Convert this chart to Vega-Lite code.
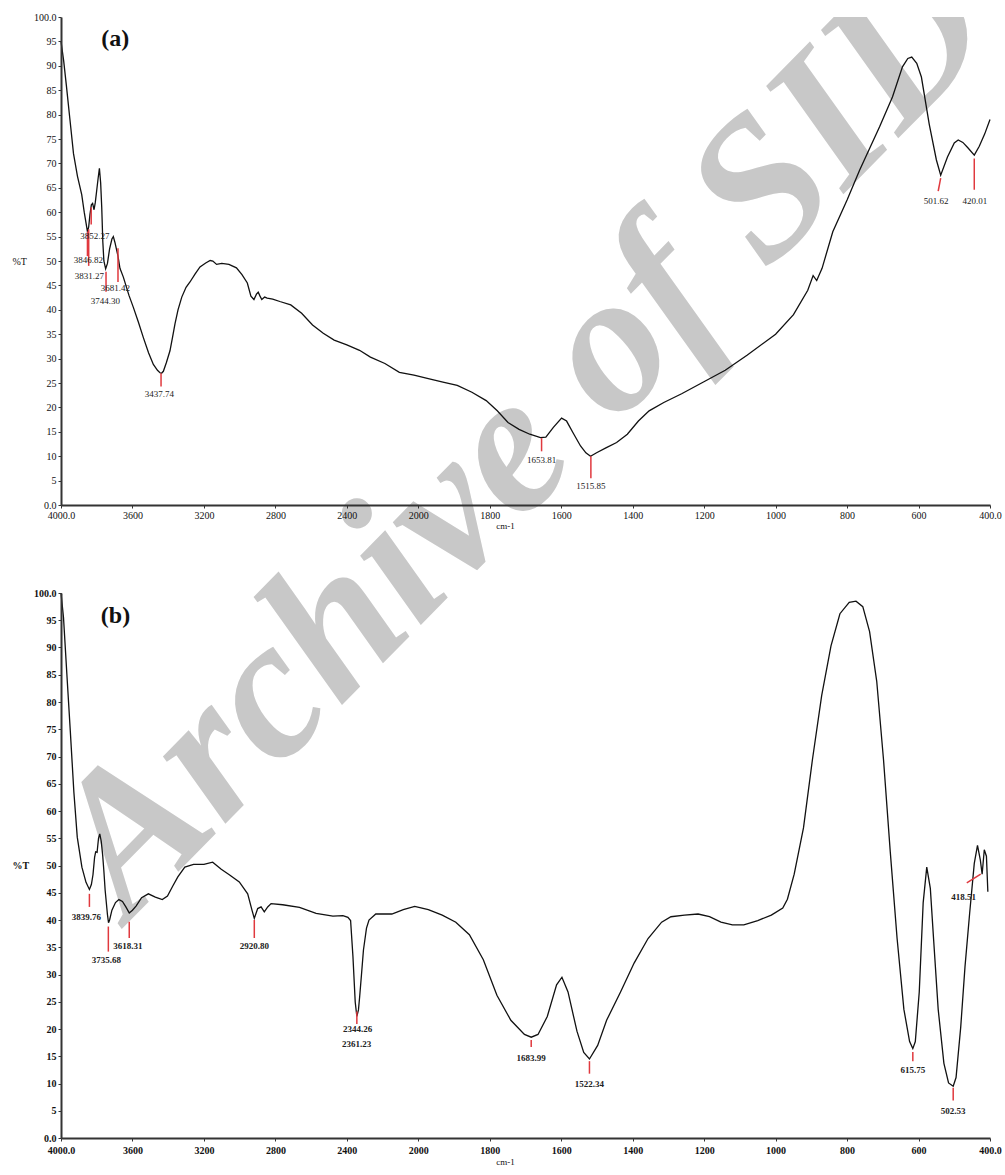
{
  "$schema": "https://vega.github.io/schema/vega-lite/v6.json",
  "background": "white",
  "padding": {"left": 12, "top": 12, "right": 5, "bottom": 3},
  "config": {
    "view": {"stroke": null},
    "font": "Liberation Serif",
    "axis": {
      "grid": false, "domainColor": "#333333", "domainWidth": 2, "tickColor": "#333333", "tickSize": 3,
      "labelFont": "Liberation Serif", "labelFontSize": 10, "labelColor": "#111111", "labelFlush": false, "labelOverlap": false,
      "titleFont": "Liberation Serif", "titleFontSize": 10, "titleFontWeight": "normal", "titleColor": "#111111"
    }
  },
  "bounds": "flush",
  "spacing": 88,
  "datasets": {
    "wmA": [{"word": "Archive", "wn": 2595, "t": -29.7}],
    "wmB": [{"word": "of SID", "wn": 1030, "t": 64.9}],
    "tagA": [{"tag": "(a)", "wn": 3697, "t": 95.5}],
    "tagB": [{"tag": "(b)", "wn": 3695, "t": 95.8}],
    "a": [
      {"wn":4000,"t":95},{"wn":3985,"t":91},{"wn":3970,"t":86},{"wn":3950,"t":79},{"wn":3930,"t":72},{"wn":3908,"t":67.4},{"wn":3884,"t":63.6},{"wn":3870,"t":60},{"wn":3860,"t":57.8},{"wn":3852,"t":56},{"wn":3845,"t":57},{"wn":3838,"t":59.5},{"wn":3830,"t":61.5},{"wn":3823,"t":61.8},{"wn":3815,"t":60.5},{"wn":3808,"t":62},{"wn":3800,"t":64.5},{"wn":3792,"t":67},{"wn":3785,"t":69},{"wn":3778,"t":66},{"wn":3772,"t":61},{"wn":3766,"t":54},{"wn":3760,"t":50},{"wn":3750,"t":48.4},{"wn":3740,"t":49.5},{"wn":3728,"t":52.5},{"wn":3715,"t":54.5},{"wn":3707,"t":55},{"wn":3698,"t":53.8},{"wn":3690,"t":52.5},{"wn":3681,"t":51},{"wn":3670,"t":48.5},{"wn":3651,"t":46.7},{"wn":3620,"t":43},{"wn":3595,"t":40.5},{"wn":3567,"t":37.5},{"wn":3539,"t":34.3},{"wn":3510,"t":31.2},{"wn":3483,"t":28.8},{"wn":3460,"t":27.6},{"wn":3446,"t":27.1},{"wn":3437,"t":27},{"wn":3427,"t":27.4},{"wn":3410,"t":29.2},{"wn":3390,"t":31.6},{"wn":3375,"t":34.5},{"wn":3362,"t":37.1},{"wn":3345,"t":40},{"wn":3324,"t":42.6},{"wn":3300,"t":44.6},{"wn":3278,"t":45.7},{"wn":3250,"t":47.3},{"wn":3222,"t":48.8},{"wn":3190,"t":49.6},{"wn":3165,"t":50.1},{"wn":3150,"t":50},{"wn":3129,"t":49.3},{"wn":3100,"t":49.5},{"wn":3060,"t":49.3},{"wn":3018,"t":48.6},{"wn":2987,"t":47.2},{"wn":2957,"t":45.5},{"wn":2937,"t":42.8},{"wn":2920,"t":42.1},{"wn":2906,"t":43.2},{"wn":2896,"t":43.6},{"wn":2886,"t":42.8},{"wn":2876,"t":42.1},{"wn":2860,"t":42.6},{"wn":2846,"t":42.4},{"wn":2815,"t":42.2},{"wn":2775,"t":41.7},{"wn":2714,"t":41.0},{"wn":2653,"t":39.3},{"wn":2592,"t":36.9},{"wn":2532,"t":35.2},{"wn":2471,"t":33.8},{"wn":2400,"t":32.8},{"wn":2329,"t":31.7},{"wn":2268,"t":30.3},{"wn":2187,"t":29.0},{"wn":2106,"t":27.2},{"wn":2024,"t":26.6},{"wn":1972,"t":25.9},{"wn":1931,"t":25.2},{"wn":1891,"t":24.5},{"wn":1850,"t":23.1},{"wn":1810,"t":21.4},{"wn":1779,"t":19.3},{"wn":1749,"t":16.9},{"wn":1718,"t":15.5},{"wn":1688,"t":14.5},{"wn":1658,"t":13.8},{"wn":1643,"t":13.9},{"wn":1622,"t":15.9},{"wn":1599,"t":17.8},{"wn":1585,"t":17.2},{"wn":1567,"t":14.8},{"wn":1546,"t":12.1},{"wn":1531,"t":10.7},{"wn":1518,"t":10.0},{"wn":1501,"t":10.7},{"wn":1475,"t":11.7},{"wn":1445,"t":12.8},{"wn":1415,"t":14.5},{"wn":1384,"t":17.2},{"wn":1354,"t":19.3},{"wn":1313,"t":21.0},{"wn":1263,"t":22.8},{"wn":1202,"t":25.2},{"wn":1141,"t":27.6},{"wn":1080,"t":30.7},{"wn":1000,"t":35},{"wn":950,"t":39},{"wn":910,"t":44},{"wn":895,"t":47},{"wn":885,"t":46},{"wn":870,"t":48.5},{"wn":840,"t":56},{"wn":800,"t":62.5},{"wn":765,"t":68.6},{"wn":709,"t":77.5},{"wn":673,"t":83.6},{"wn":645,"t":89.8},{"wn":630,"t":91.5},{"wn":619,"t":91.8},{"wn":605,"t":90.5},{"wn":592,"t":87.7},{"wn":570,"t":78},{"wn":550,"t":70.7},{"wn":538,"t":67.6},{"wn":519,"t":71.3},{"wn":500,"t":74.2},{"wn":489,"t":74.8},{"wn":476,"t":74.3},{"wn":462,"t":73.2},{"wn":444,"t":71.7},{"wn":430,"t":73.5},{"wn":415,"t":76},{"wn":400,"t":79}
    ],
    "b": [
      {"wn":4000,"t":100},{"wn":3986,"t":95.5},{"wn":3967,"t":85},{"wn":3948,"t":74.7},{"wn":3928,"t":63.5},{"wn":3909,"t":55.2},{"wn":3883,"t":49.7},{"wn":3860,"t":46.9},{"wn":3841,"t":45.6},{"wn":3830,"t":46.5},{"wn":3821,"t":48.3},{"wn":3812,"t":51.5},{"wn":3806,"t":52.5},{"wn":3798,"t":52.4},{"wn":3790,"t":55},{"wn":3783,"t":55.8},{"wn":3775,"t":54.5},{"wn":3767,"t":52},{"wn":3760,"t":49},{"wn":3753,"t":45.5},{"wn":3740,"t":41},{"wn":3734,"t":39.5},{"wn":3728,"t":40},{"wn":3715,"t":41.8},{"wn":3695,"t":43.2},{"wn":3676,"t":43.75},{"wn":3656,"t":43.4},{"wn":3637,"t":42.4},{"wn":3618,"t":41.3},{"wn":3600,"t":41.8},{"wn":3579,"t":42.6},{"wn":3549,"t":44.1},{"wn":3511,"t":44.8},{"wn":3472,"t":44.2},{"wn":3433,"t":43.75},{"wn":3404,"t":44.4},{"wn":3375,"t":46.2},{"wn":3346,"t":47.9},{"wn":3307,"t":49.7},{"wn":3258,"t":50.2},{"wn":3200,"t":50.2},{"wn":3151,"t":50.6},{"wn":3103,"t":49.3},{"wn":3058,"t":48.3},{"wn":3002,"t":47},{"wn":2955,"t":44.8},{"wn":2931,"t":41.8},{"wn":2918,"t":40.3},{"wn":2899,"t":42.1},{"wn":2880,"t":42.4},{"wn":2862,"t":41.5},{"wn":2843,"t":42.4},{"wn":2824,"t":43.0},{"wn":2759,"t":42.8},{"wn":2665,"t":42.3},{"wn":2572,"t":41.2},{"wn":2478,"t":40.7},{"wn":2422,"t":40.8},{"wn":2394,"t":40.5},{"wn":2379,"t":39.9},{"wn":2366,"t":33.4},{"wn":2353,"t":24.9},{"wn":2344,"t":22.3},{"wn":2335,"t":23.5},{"wn":2328,"t":26},{"wn":2318,"t":30},{"wn":2307,"t":34.5},{"wn":2290,"t":38.5},{"wn":2276,"t":40},{"wn":2238,"t":41.1},{"wn":2148,"t":41.1},{"wn":2084,"t":41.9},{"wn":2020,"t":42.5},{"wn":1972,"t":41.9},{"wn":1933,"t":40.9},{"wn":1895,"t":39.6},{"wn":1857,"t":37.3},{"wn":1818,"t":32.7},{"wn":1780,"t":26.2},{"wn":1741,"t":21.6},{"wn":1703,"t":19.0},{"wn":1684,"t":18.5},{"wn":1665,"t":19.0},{"wn":1639,"t":22.3},{"wn":1613,"t":28.1},{"wn":1598,"t":29.5},{"wn":1581,"t":26.8},{"wn":1556,"t":19.6},{"wn":1537,"t":15.7},{"wn":1521,"t":14.5},{"wn":1498,"t":17.0},{"wn":1473,"t":21.6},{"wn":1434,"t":26.8},{"wn":1396,"t":32.1},{"wn":1357,"t":36.6},{"wn":1319,"t":39.6},{"wn":1293,"t":40.6},{"wn":1255,"t":40.9},{"wn":1217,"t":41.1},{"wn":1185,"t":40.6},{"wn":1153,"t":39.6},{"wn":1121,"t":39.1},{"wn":1089,"t":39.1},{"wn":1050,"t":39.9},{"wn":1012,"t":40.9},{"wn":980,"t":42.2},{"wn":967,"t":43.8},{"wn":948,"t":48.4},{"wn":922,"t":56.9},{"wn":897,"t":69.4},{"wn":871,"t":81.2},{"wn":845,"t":90.3},{"wn":820,"t":96.2},{"wn":794,"t":98.3},{"wn":775,"t":98.5},{"wn":756,"t":97.5},{"wn":737,"t":92.9},{"wn":717,"t":83.8},{"wn":698,"t":69.4},{"wn":679,"t":52.4},{"wn":660,"t":36.6},{"wn":641,"t":23.6},{"wn":625,"t":17.7},{"wn":616,"t":16.4},{"wn":609,"t":17.7},{"wn":598,"t":26.8},{"wn":587,"t":43.2},{"wn":577,"t":49.7},{"wn":567,"t":45.8},{"wn":558,"t":36.6},{"wn":545,"t":23.6},{"wn":529,"t":13.7},{"wn":516,"t":10.1},{"wn":503,"t":9.5},{"wn":495,"t":11.1},{"wn":482,"t":20.3},{"wn":470,"t":31.4},{"wn":457,"t":41.2},{"wn":444,"t":50.4},{"wn":435,"t":53.7},{"wn":427,"t":51.0},{"wn":422,"t":48.4},{"wn":416,"t":52.9},{"wn":410,"t":51.7},{"wn":406,"t":45.2}
    ],
    "ma": [
      {"wn":3852,"wn2":3852,"t":56,"t2":51},
      {"wn":3845,"wn2":3845,"t":56.5,"t2":49},
      {"wn":3831,"wn2":3831,"t":61,"t2":57.5},
      {"wn":3748,"wn2":3748,"t":47.8,"t2":43.7},
      {"wn":3681,"wn2":3681,"t":52.6,"t2":45.7},
      {"wn":3440,"wn2":3440,"t":27,"t2":24.3},
      {"wn":1655,"wn2":1655,"t":13.7,"t2":11},
      {"wn":1517,"wn2":1517,"t":10,"t2":5.5},
      {"wn":538,"wn2":545,"t":67,"t2":64.3},
      {"wn":444,"wn2":444,"t":71,"t2":64.6}
    ],
    "la": [
      {"label":"3852.27","wn":3810,"t":55.2},
      {"label":"3846.82","wn":3847,"t":50.3},
      {"label":"3831.27","wn":3841,"t":46.9},
      {"label":"3744.30","wn":3752,"t":41.8},
      {"label":"3681.42","wn":3696,"t":44.4},
      {"label":"3437.74","wn":3450,"t":22.8},
      {"label":"1653.81","wn":1655,"t":9.3},
      {"label":"1515.85","wn":1517,"t":3.9},
      {"label":"501.62","wn":551,"t":62.3},
      {"label":"420.01","wn":442,"t":62.3}
    ],
    "mb": [
      {"wn":3841,"wn2":3841,"t":44.8,"t2":42.4},
      {"wn":3735,"wn2":3735,"t":38.8,"t2":34.2},
      {"wn":3618,"wn2":3618,"t":39.7,"t2":36.7},
      {"wn":2918,"wn2":2918,"t":40,"t2":36.7},
      {"wn":2344,"wn2":2344,"t":23.2,"t2":20.9},
      {"wn":1684,"wn2":1684,"t":18,"t2":16.7},
      {"wn":1521,"wn2":1521,"t":14.1,"t2":11.8},
      {"wn":616,"wn2":616,"t":15.8,"t2":14.1},
      {"wn":503,"wn2":503,"t":9.2,"t2":6.9},
      {"wn":465,"wn2":426,"t":46.8,"t2":48.4}
    ],
    "lb": [
      {"label":"3839.76","wn":3858,"t":40.5},
      {"label":"3735.68","wn":3746,"t":32.6},
      {"label":"3618.31","wn":3625,"t":35.2},
      {"label":"2920.80","wn":2918,"t":35.2},
      {"label":"2344.26","wn":2340,"t":20},
      {"label":"2361.23","wn":2345,"t":17.3},
      {"label":"1683.99","wn":1684,"t":14.7},
      {"label":"1522.34","wn":1521,"t":9.9},
      {"label":"615.75","wn":616,"t":12.4},
      {"label":"502.53","wn":503,"t":4.9},
      {"label":"418.51","wn":474,"t":44.2}
    ]
  },
  "vconcat": [
    {
      "width": 929, "height": 488,
      "encoding": {
        "x": {"field": "wn", "type": "quantitative", "scale": {"domain": [4000, 2000, 400], "range": [0, 357.3, 929], "nice": false, "zero": false},
          "axis": {"zindex": 2, "values": [4000,3600,3200,2800,2400,2000,1800,1600,1400,1200,1000,800,600,400], "labelExpr": "datum.value==4000?'4000.0':datum.value==400?'400.0':toString(datum.value)", "labelOverlap": false, "title": "cm-1", "titleX": 444, "titlePadding": 1, "titleFontSize": 9, "labelPadding": 2}},
        "y": {"field": "t", "type": "quantitative", "scale": {"domain": [0, 100], "nice": false, "zero": false},
          "axis": {"zindex": 2, "values": [0,5,10,15,20,25,30,35,40,45,50,55,60,65,70,75,80,85,90,95,100], "labelExpr": "datum.value==100?'100.0':datum.value==0?'0.0':toString(datum.value)", "labelOverlap": false, "title": "%T", "titleAngle": 0, "titleAlign": "left", "titleBaseline": "middle", "titleX": -49, "titleY": 244, "labelPadding": 2}}
      },
      "layer": [
        {
          "data": {"name": "wmA"},
          "mark": {"type": "text", "angle": -45.5, "fontSize": 200, "fontWeight": "bold", "fontStyle": "italic", "font": "Liberation Serif", "color": "#c8c8c8", "align": "center", "baseline": "middle"},
          "encoding": {"text": {"field": "word"}}
        },
        {
          "data": {"name": "wmB"},
          "mark": {"type": "text", "angle": -45.5, "fontSize": 200, "fontWeight": "bold", "fontStyle": "italic", "font": "Liberation Serif", "color": "#c8c8c8", "align": "center", "baseline": "middle", "clip": true},
          "encoding": {"text": {"field": "word"}}
        },
        {
          "data": {"name": "a"},
          "mark": {"type": "line", "color": "#111111", "strokeWidth": 1.3}
        },
        {
          "data": {"name": "ma"},
          "mark": {"type": "rule", "color": "#e0393e", "strokeWidth": 1.5},
          "encoding": {"x2": {"field": "wn2"}, "y2": {"field": "t2"}}
        },
        {
          "data": {"name": "la"},
          "mark": {"type": "text", "fontSize": 9, "color": "#222222", "align": "center", "baseline": "middle", "font": "Liberation Serif"},
          "encoding": {"text": {"field": "label"}}
        },
        {
          "data": {"name": "tagA"},
          "mark": {"type": "text", "fontSize": 24, "fontWeight": "bold", "font": "Liberation Serif", "color": "#111111", "align": "center", "baseline": "middle"},
          "encoding": {"text": {"field": "tag"}}
        }
      ]
    },
    {
      "width": 929, "height": 545,
      "encoding": {
        "x": {"field": "wn", "type": "quantitative", "scale": {"domain": [4000, 2000, 400], "range": [0, 357.3, 929], "nice": false, "zero": false},
          "axis": {"zindex": 2, "values": [4000,3600,3200,2800,2400,2000,1800,1600,1400,1200,1000,800,600,400], "labelExpr": "datum.value==4000?'4000.0':datum.value==400?'400.0':toString(datum.value)", "labelOverlap": false, "title": "cm-1", "titleX": 444, "titlePadding": 2, "titleFontSize": 9, "labelPadding": 4, "labelFontWeight": "bold"}},
        "y": {"field": "t", "type": "quantitative", "scale": {"domain": [0, 100], "nice": false, "zero": false},
          "axis": {"zindex": 2, "values": [0,5,10,15,20,25,30,35,40,45,50,55,60,65,70,75,80,85,90,95,100], "labelExpr": "datum.value==100?'100.0':datum.value==0?'0.0':toString(datum.value)", "labelOverlap": false, "title": "%T", "titleAngle": 0, "titleAlign": "left", "titleBaseline": "middle", "titleX": -49, "titleY": 272, "titleFontWeight": "bold", "labelPadding": 2, "labelFontWeight": "bold"}}
      },
      "layer": [
        {
          "data": {"name": "b"},
          "mark": {"type": "line", "color": "#111111", "strokeWidth": 1.3}
        },
        {
          "data": {"name": "mb"},
          "mark": {"type": "rule", "color": "#e0393e", "strokeWidth": 1.5},
          "encoding": {"x2": {"field": "wn2"}, "y2": {"field": "t2"}}
        },
        {
          "data": {"name": "lb"},
          "mark": {"type": "text", "fontSize": 9, "fontWeight": "bold", "color": "#222222", "align": "center", "baseline": "middle", "font": "Liberation Serif"},
          "encoding": {"text": {"field": "label"}}
        },
        {
          "data": {"name": "tagB"},
          "mark": {"type": "text", "fontSize": 24, "fontWeight": "bold", "font": "Liberation Serif", "color": "#111111", "align": "center", "baseline": "middle"},
          "encoding": {"text": {"field": "tag"}}
        }
      ]
    }
  ]
}
